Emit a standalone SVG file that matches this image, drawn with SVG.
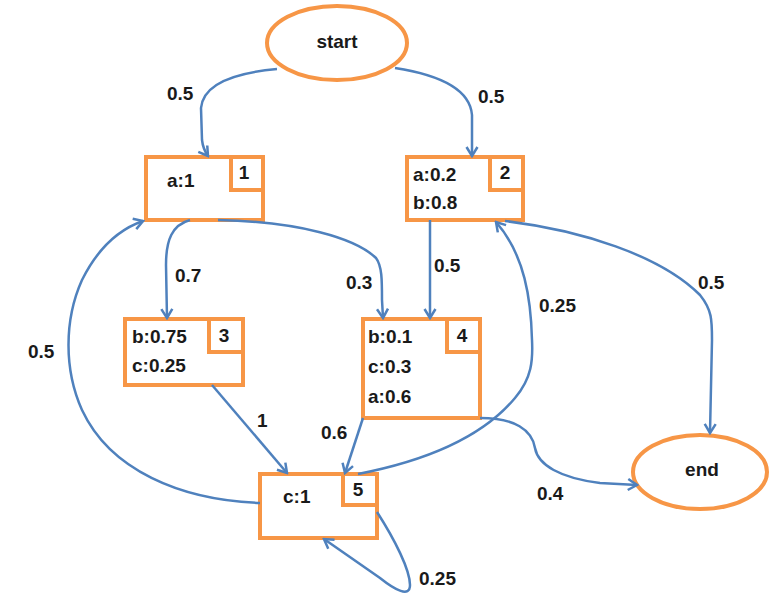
<svg xmlns="http://www.w3.org/2000/svg" width="769" height="596" viewBox="0 0 769 596">
<defs>
<style>
.node{fill:#fff;stroke:#F79646;stroke-width:4}
.tag{fill:#fff;stroke:#F79646;stroke-width:4}
.t{font-family:"Liberation Sans",Arial,sans-serif;font-weight:bold;font-size:19px;fill:#1a1a1a}
.c{text-anchor:middle}
.e{fill:none;stroke:#4F81BD;stroke-width:2.5;marker-end:url(#arr)}
</style>
<marker id="arr" markerUnits="userSpaceOnUse" viewBox="-11 -7 13 14" markerWidth="13" markerHeight="14" refX="0" refY="0" orient="auto">
<path d="M-9,-5.5 L0,0 L-9,5.5" fill="none" stroke="#4F81BD" stroke-width="2.5" stroke-linejoin="miter"/>
</marker>
</defs>
<rect width="769" height="596" fill="#fff"/>
<g id="start">
<ellipse class="node" cx="337" cy="43" rx="70" ry="37"/>
<text class="t c" x="337" y="48">start</text>
</g>
<g id="end">
<ellipse class="node" cx="700" cy="472" rx="67" ry="37"/>
<text class="t c" x="702" y="476">end</text>
</g>
<g id="n1">
<rect class="node" x="146" y="157" width="117" height="63"/>
<rect class="tag" x="231" y="157" width="32" height="33"/>
<text class="t" x="167" y="187">a:1</text>
<text class="t c" x="244" y="179">1</text>
</g>
<g id="n2">
<rect class="node" x="407" y="157" width="116" height="63"/>
<rect class="tag" x="490" y="157" width="33" height="33"/>
<text class="t" x="413" y="181">a:0.2</text>
<text class="t" x="413" y="209">b:0.8</text>
<text class="t c" x="505" y="179">2</text>
</g>
<g id="n3">
<rect class="node" x="125" y="319" width="118" height="66"/>
<rect class="tag" x="209" y="319" width="34" height="33"/>
<text class="t" x="132" y="343">b:0.75</text>
<text class="t" x="132" y="372">c:0.25</text>
<text class="t c" x="224" y="342">3</text>
</g>
<g id="n4">
<rect class="node" x="363" y="319" width="117" height="99"/>
<rect class="tag" x="447" y="319" width="33" height="33"/>
<text class="t" x="368" y="343">b:0.1</text>
<text class="t" x="368" y="373">c:0.3</text>
<text class="t" x="368" y="403">a:0.6</text>
<text class="t c" x="462" y="342">4</text>
</g>
<g id="n5">
<rect class="node" x="260" y="474" width="117" height="64"/>
<rect class="tag" x="343" y="474" width="34" height="31"/>
<text class="t" x="283" y="503">c:1</text>
<text class="t c" x="358" y="496">5</text>
</g>
<g id="connectors">
<path class="e" d="M277,69 C232,73 203,85 201,108 L202,140 Q203,149 208,156"/>
<path class="e" d="M395,68 C440,75 470,90 472,115 L472,156"/>
<path class="e" d="M190,220 C172,225 166,240 166,265 L167,318"/>
<path class="e" d="M218,220 C300,222 355,238 376,258 C382,266 382,280 382,300 L383,318"/>
<path class="e" d="M430,220 L430,318"/>
<path class="e" d="M212,385 L287,473"/>
<path class="e" d="M363,418 L345,473"/>
<path class="e" d="M358,474 C420,462 480,440 515,398 C532,378 533,360 532,340 C531,300 525,255 496,222"/>
<path class="e" d="M505,221 C580,230 660,255 700,295 C712,310 712,320 712,340 L710,433"/>
<path class="e" d="M480,418 C515,418 532,430 535,448 C538,465 560,478 600,483 L637,485"/>
<path class="e" d="M260,503 C180,500 110,470 82,410 C64,370 64,320 82,280 C97,250 117,230 143,221"/>
<path class="e" d="M377,512 C395,540 410,570 410,585 C410,598 395,590 380,578 L324,539"/>
</g>
<g id="labels">
<text class="t" x="167" y="100">0.5</text>
<text class="t" x="478" y="103">0.5</text>
<text class="t" x="175" y="282">0.7</text>
<text class="t" x="346" y="289">0.3</text>
<text class="t" x="434" y="272">0.5</text>
<text class="t" x="539" y="312">0.25</text>
<text class="t" x="698" y="289">0.5</text>
<text class="t" x="28" y="358">0.5</text>
<text class="t" x="257" y="427">1</text>
<text class="t" x="321" y="439">0.6</text>
<text class="t" x="537" y="500">0.4</text>
<text class="t" x="419" y="585">0.25</text>
</g>
</svg>
